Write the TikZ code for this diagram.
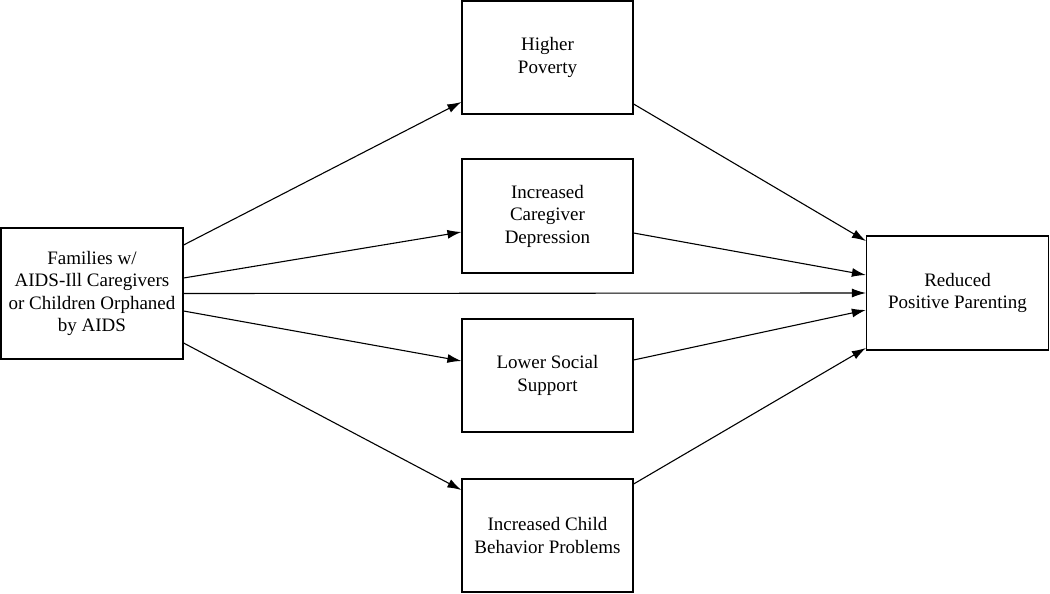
\documentclass[tikz,border=0pt]{standalone}
\usepackage{fontspec}
\setmainfont{Liberation Serif}
\usetikzlibrary{arrows.meta}
\tikzset{
  factor/.style = {draw, line width=1.2pt, align=center, inner sep=0pt,
                   font=\rmfamily\fontsize{19}{22.5}\selectfont},
  path/.style = {line width=1.1pt, -{Latex[length=14pt, width=9pt]}}
}
\begin{document}
\begin{tikzpicture}[x=1pt, y=-1pt]
  \useasboundingbox (0,0) rectangle (1050,594);
  \node[factor, minimum width=182pt, minimum height=131pt] (fam) at (92,293.5)
       {Families w/\\AIDS-Ill Caregivers\\or Children Orphaned\\by AIDS};
  \node[factor, minimum width=171pt, minimum height=113pt] (pov) at (547.5,57.5) {Higher\\Poverty};
  \node[factor, minimum width=171pt, minimum height=114pt] (dep) at (547.5,216) {Increased\\Caregiver\\Depression};
  \node[factor, minimum width=171pt, minimum height=113pt] (sup) at (547.5,375.5) {Lower Social\\Support};
  \node[factor, minimum width=171pt, minimum height=113pt] (beh) at (547.5,535.5) {Increased Child\\Behavior Problems};
  \node[factor, minimum width=182pt, minimum height=114pt] (par) at (957.5,293) {Reduced\\Positive Parenting};

  \draw[path] ([yshift=48.5pt]fam.east) -- ([yshift=-44.5pt]pov.west);
  \draw[path] ([yshift=15.5pt]fam.east) -- ([yshift=-16pt]dep.west);
  \draw[path] (fam.east) -- (par.west);
  \draw[path] ([yshift=-17.5pt]fam.east) -- ([yshift=14.5pt]sup.west);
  \draw[path] ([yshift=-49.5pt]fam.east) -- ([yshift=45.5pt]beh.west);

  \draw[path] ([yshift=-46.5pt]pov.east) -- ([yshift=52pt]par.west);
  \draw[path] ([yshift=-17pt]dep.east) -- ([yshift=18pt]par.west);
  \draw[path] ([yshift=15.5pt]sup.east) -- ([yshift=-17pt]par.west);
  \draw[path] ([yshift=51.5pt]beh.east) -- ([yshift=-55pt]par.west);
\end{tikzpicture}
\end{document}
